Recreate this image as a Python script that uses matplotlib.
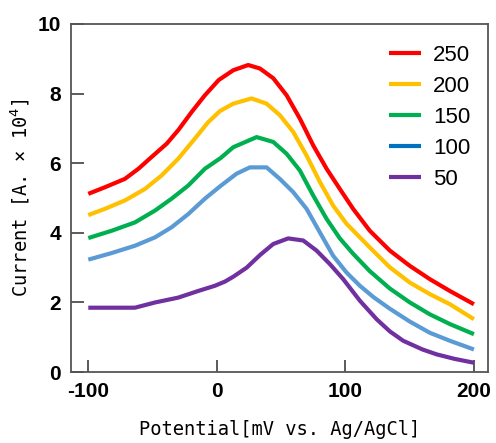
import numpy as np
import matplotlib
matplotlib.use('Agg')
import matplotlib.pyplot as plt

# scan rates (legend labels) and the potential / current points of each curve
labels = ['250', '200', '150', '100', '50']

x_250 = [-100, -87, -71.5, -61, -50.7, -39, -30, -19.6, -9.3, 1.5, 12.8, 24.4, 33.5, 43.9,
         54.3, 64.6, 75, 85.4, 95.7, 106, 119, 134.6, 150.2, 165.7, 181.3, 200]
y_250 = [5.12, 5.31, 5.55, 5.84, 6.18, 6.56, 6.95, 7.47, 7.95, 8.39, 8.67, 8.82, 8.72, 8.44,
         7.95, 7.28, 6.51, 5.84, 5.26, 4.69, 4.06, 3.49, 3.05, 2.67, 2.33, 1.95]

x_200 = [-100, -87, -71.5, -55.9, -42.9, -30, -17, -6.7, 2.5, 12.8, 27, 38.7, 49, 59.4,
         69.8, 80.2, 90.5, 100.9, 111.3, 119, 134.6, 150.2, 165.7, 181.3, 200]
y_200 = [4.51, 4.69, 4.93, 5.26, 5.65, 6.13, 6.71, 7.18, 7.50, 7.71, 7.86, 7.71, 7.38, 6.90,
         6.22, 5.46, 4.78, 4.26, 3.87, 3.58, 3.01, 2.57, 2.24, 1.95, 1.52]

x_150 = [-100, -81.8, -63.7, -48.1, -35.2, -22.2, -9.3, 3, 12.8, 31, 43.9, 54.3, 64.6, 75,
         85.4, 95.7, 106, 119, 134.6, 150.2, 165.7, 181.3, 200]
y_150 = [3.85, 4.06, 4.30, 4.64, 4.98, 5.36, 5.84, 6.15, 6.46, 6.75, 6.61, 6.27, 5.79, 5.07,
         4.40, 3.84, 3.40, 2.90, 2.40, 2.00, 1.66, 1.38, 1.09]

x_100 = [-100, -81.8, -63.7, -48.1, -35.2, -22.2, -9.3, 3, 15.4, 25.7, 38.7, 49, 59.4, 69.8,
         80.2, 90.5, 100.9, 111.3, 122, 134.6, 150.2, 165.7, 181.3, 200]
y_100 = [3.23, 3.42, 3.63, 3.87, 4.16, 4.54, 4.98, 5.35, 5.70, 5.88, 5.88, 5.55, 5.17, 4.69,
         4.01, 3.34, 2.86, 2.48, 2.15, 1.82, 1.45, 1.13, 0.90, 0.65]

x_50 = [-100, -63.7, -48.1, -30, -14.5, -1.5, 6.3, 12.8, 23.2, 33.5, 43.9, 55.5, 67.2, 77.6,
        88, 98.3, 111.3, 124.3, 134.6, 145, 160, 171, 185, 200]
y_50 = [1.85, 1.85, 2.00, 2.14, 2.33, 2.48, 2.60, 2.74, 3.00, 3.36, 3.68, 3.84, 3.78, 3.49,
        3.10, 2.67, 2.05, 1.52, 1.17, 0.90, 0.65, 0.51, 0.38, 0.27]

xs = [x_250, x_200, x_150, x_100, x_50]
ys = [y_250, y_200, y_150, y_100, y_50]
colors = ['#FF0000', '#FFC000', '#00B050', '#5B9BD5', '#7030A0']
legend_colors = ['#FF0000', '#FFC000', '#00B050', '#0070C0', '#7030A0']

fig = plt.figure(figsize=(4.96, 4.43), dpi=100)
ax = fig.add_axes([0.143, 0.160, 0.841, 0.786])

for x, y, c, lab in zip(xs, ys, colors, labels):
    ax.plot(x, y, color=c, lw=3, label=lab, solid_joinstyle='round', solid_capstyle='butt')

ax.set_xlim(-113.5, 211)
ax.set_ylim(0, 10)
ax.set_xticks([-100, 0, 100, 200])
ax.set_yticks([0, 2, 4, 6, 8, 10])

tick_font = dict(family='Liberation Sans', size=15, weight='bold')
ax.set_xticklabels(['-100', '0', '100', '200'], fontdict=tick_font)
ax.set_yticklabels(['0', '2', '4', '6', '8', '10'], fontdict=tick_font)
ax.tick_params(direction='in', length=9, width=1.2, color='#404040', pad=7)

for s in ax.spines.values():
    s.set_color('#555555')
    s.set_linewidth(1.3)

label_font = dict(family='DejaVu Sans Mono', size=13.5)
ax.set_xlabel('Potential[mV vs. Ag/AgCl]', fontdict=label_font, labelpad=14)
ax.set_ylabel('Current [A. × 10$^4$]', fontdict=label_font, labelpad=4)

leg = ax.legend(loc='upper right', frameon=False, handlelength=1.45, handletextpad=0.55,
                labelspacing=0.45, prop=dict(family='Liberation Sans', size=16),
                borderaxespad=0.3, bbox_to_anchor=(0.995, 0.985))
for line, c in zip(leg.get_lines(), legend_colors):
    line.set_color(c)
    line.set_linewidth(3)

fig.savefig('out.png', dpi=100)
